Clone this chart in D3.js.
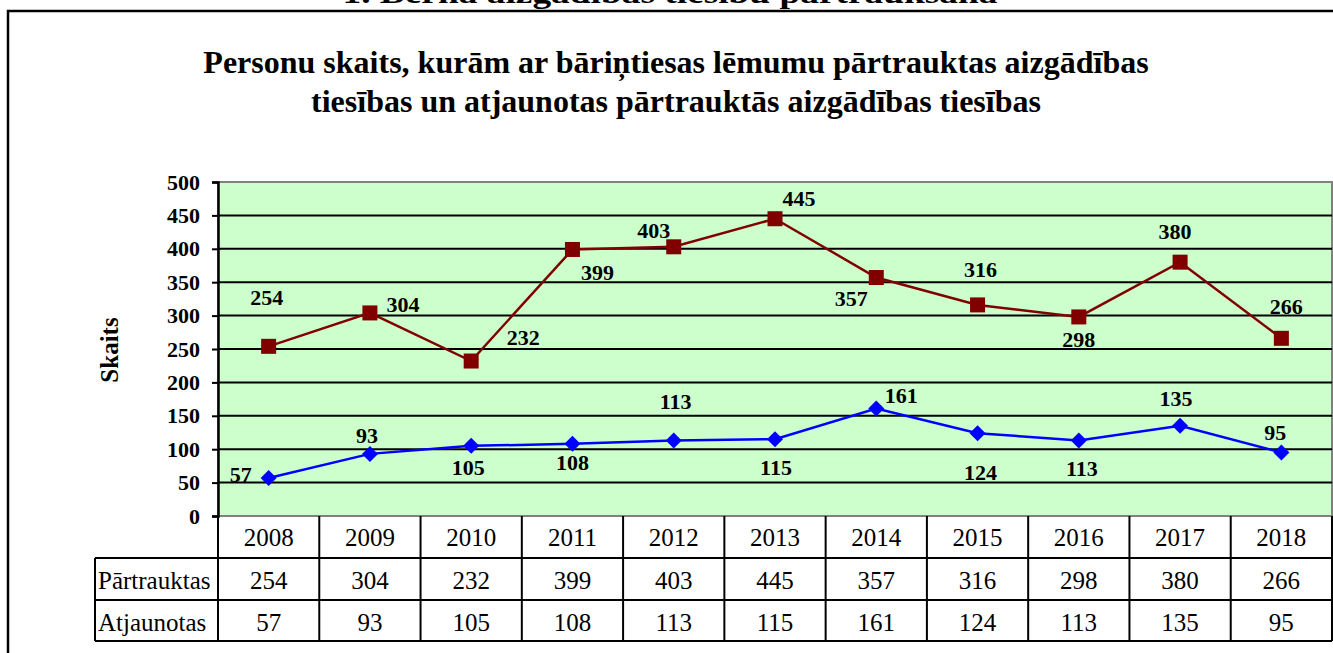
<!DOCTYPE html>
<html><head><meta charset="utf-8">
<script src="https://cdn.jsdelivr.net/npm/d3@7"></script>
<style>html,body{margin:0;padding:0;background:#fff;}svg{display:block;}</style>
</head><body>
<svg id="c" width="1333" height="653"></svg>
<script>
const years = ["2008","2009","2010","2011","2012","2013","2014","2015","2016","2017","2018"];
const partrauktas = [254,304,232,399,403,445,357,316,298,380,266];
const atjaunotas = [57,93,105,108,113,115,161,124,113,135,95];
const yTicks = [0,50,100,150,200,250,300,350,400,450,500];
const rowNames = ["Pārtrauktas","Atjaunotas"];

// label offsets (layout only)
const redOff = [[-2,-49],[33,-9],[52,-24],[25,23],[-20,-16],[24,-20],[-25,21],[3,-36],[0,22],[-5,-31],[5,-32]];
const blueOff = [[-28,-4],[-3,-19],[-3,21],[0,18],[2,-39],[1,28],[25,-13],[3,39],[3,28],[-4,-28],[-6,-20]];

const svg = d3.select("#c");
const serif = "'Liberation Serif','Times New Roman',serif";
const L = 218, R = 1332, T = 182, B = 516;

// cut-off top heading
svg.append("text").attr("x",670).attr("y",3).attr("text-anchor","middle")
  .attr("font-family",serif).attr("font-weight","bold").attr("font-size",30)
  .attr("textLength",655).attr("lengthAdjust","spacingAndGlyphs")
  .text("1. Bērna aizgādības tiesību pārtraukšana");

// outer frame
svg.append("path").attr("d",`M8,653 L8,11 L1333,11`).attr("fill","none").attr("stroke","#000").attr("stroke-width",2.5);

// title
svg.append("text").attr("x",676).attr("y",73).attr("text-anchor","middle")
  .attr("font-family",serif).attr("font-weight","bold").attr("font-size",32)
  .text("Personu skaits, kurām ar bāriņtiesas lēmumu pārtrauktas aizgādības");
svg.append("text").attr("x",676).attr("y",112).attr("text-anchor","middle")
  .attr("font-family",serif).attr("font-weight","bold").attr("font-size",32)
  .text("tiesības un atjaunotas pārtrauktās aizgādības tiesības");

const x = d3.scaleBand().domain(years).range([L,R]).padding(0);
const y = d3.scaleLinear().domain([0,500]).range([B,T]);

// plot area
svg.append("rect").attr("x",L).attr("y",T).attr("width",R-L).attr("height",B-T)
  .attr("fill","#CCFFCC").attr("stroke","#808080").attr("stroke-width",2);

// gridlines
svg.append("g").selectAll("line").data(yTicks.filter(d=>d>0 && d<500)).join("line")
  .attr("x1",L).attr("x2",R).attr("y1",d=>y(d)).attr("y2",d=>y(d))
  .attr("stroke","#000").attr("stroke-width",2);

// y axis
const yAxis = d3.axisLeft(y).tickValues(yTicks).tickSize(6).tickPadding(12);
const ga = svg.append("g").attr("transform",`translate(${L},0)`).call(yAxis);
ga.select(".domain").attr("stroke","#000").attr("stroke-width",2.5);
ga.selectAll(".tick line").attr("stroke","#000").attr("stroke-width",2);
ga.selectAll(".tick text").attr("font-family",serif).attr("font-weight","bold").attr("font-size",22).attr("fill","#000");

// y title
svg.append("text").attr("transform","translate(118,350) rotate(-90)").attr("text-anchor","middle")
  .attr("font-family",serif).attr("font-weight","bold").attr("font-size",25).text("Skaits");

// lines
const cx = d => x(d) + x.bandwidth()/2;
const line = d3.line().x(d=>cx(d[0])).y(d=>y(d[1]));
svg.append("path").datum(years.map((d,i)=>[d,partrauktas[i]])).attr("d",line)
  .attr("fill","none").attr("stroke","#800000").attr("stroke-width",2.5);
svg.append("path").datum(years.map((d,i)=>[d,atjaunotas[i]])).attr("d",line)
  .attr("fill","none").attr("stroke","#0000FF").attr("stroke-width",2.5);

// markers
svg.append("g").selectAll("rect").data(partrauktas).join("rect")
  .attr("x",(d,i)=>cx(years[i])-7.5).attr("y",d=>y(d)-7.5).attr("width",15).attr("height",15)
  .attr("fill","#800000");
svg.append("g").selectAll("path").data(atjaunotas).join("path")
  .attr("d",(d,i)=>{const px=cx(years[i]),py=y(d);return `M${px},${py-8}L${px+8},${py}L${px},${py+8}L${px-8},${py}Z`;})
  .attr("fill","#0000FF");

// data labels
const lab = (data,off)=>svg.append("g").selectAll("text").data(data).join("text")
  .attr("x",(d,i)=>cx(years[i])+off[i][0]).attr("y",(d,i)=>y(d)+off[i][1])
  .attr("dy","0.35em").attr("text-anchor","middle")
  .attr("font-family",serif).attr("font-weight","bold").attr("font-size",22).attr("fill","#000")
  .text(d=>d);
lab(partrauktas,redOff);
lab(atjaunotas,blueOff);

// data table
const rows = [B, 558, 600, 641];
const tg = svg.append("g");
tg.selectAll("text.yr").data(years).join("text").attr("class","yr")
  .attr("x",d=>cx(d)).attr("y",546).attr("text-anchor","middle")
  .attr("font-family",serif).attr("font-size",25).text(d=>d);
[partrauktas,atjaunotas].forEach((arr,r)=>{
  tg.append("g").selectAll("text").data(arr).join("text")
    .attr("x",(d,i)=>cx(years[i])).attr("y",rows[r+1]+31).attr("text-anchor","middle")
    .attr("font-family",serif).attr("font-size",25).text(d=>d);
  tg.append("text").attr("x",98).attr("y",rows[r+1]+31)
    .attr("font-family",serif).attr("font-size",25).text(rowNames[r]);
});
const tl = (x1,y1,x2,y2)=>tg.append("line").attr("x1",x1).attr("y1",y1).attr("x2",x2).attr("y2",y2).attr("stroke","#000").attr("stroke-width",2);
tl(L,B,L,641);
years.forEach(d=>tl(x(d)+x.bandwidth(),B,x(d)+x.bandwidth(),641));
tl(95,558,R,558); tl(95,600,R,600); tl(95,641,R,641);
tl(95,558,95,641);
</script>
</body></html>
